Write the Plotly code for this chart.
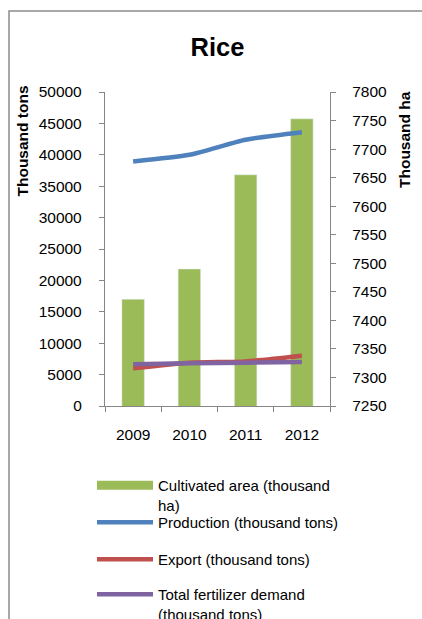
import plotly.graph_objects as go

# Rice: cultivated area (bars, right axis) and production / export / fertilizer (lines, left axis)
years = ["2009", "2010", "2011", "2012"]
cultivated_area = [7437, 7490, 7655, 7753]      # thousand ha
production = [38950, 40000, 42400, 43600]       # thousand tons
export = [6000, 6900, 7100, 8000]               # thousand tons
fertilizer = [6650, 6800, 6900, 7000]           # thousand tons

ha_ticks = list(range(7250, 7801, 50))
ton_ticks = list(range(0, 50001, 5000))

# canvas geometry
W, H = 422, 619
M_L, M_R, M_T, M_B = 105, 92, 92, 213
PW = W - M_L - M_R
PH = H - M_T - M_B


def px_x(px):
    return (px - M_L) / PW


def px_y(py):
    return (H - M_B - py) / PH


FONT = "Liberation Sans, Arial, sans-serif"
GREEN, BLUE, RED, PURPLE = "#9BBB59", "#4F81BD", "#C0504D", "#8064A2"
AXIS = "#868686"
FS = 15.5
LEG_FS = 15

fig = go.Figure()

fig.add_trace(go.Bar(
    x=years, y=cultivated_area, yaxis="y", marker_color=GREEN,
    name="Cultivated area (thousand ha)", showlegend=False,
))
# legend entry for the bars, drawn as a wide swatch
fig.add_trace(go.Scatter(
    x=[None], y=[None], yaxis="y", mode="lines",
    line=dict(color=GREEN, width=9),
    name="Cultivated area (thousand<br>ha)", legend="legend",
))

line_series = [
    ("Production (thousand tons)", production, BLUE, "legend2"),
    ("Export (thousand tons)", export, RED, "legend3"),
    ("Total fertilizer demand<br>(thousand tons)", fertilizer, PURPLE, "legend4"),
]
for name, vals, color, leg in line_series:
    fig.add_trace(go.Scatter(
        x=years, y=vals, yaxis="y2", mode="lines",
        line=dict(color=color, width=4.5, shape="spline", smoothing=0.6),
        name=name, legend=leg,
    ))

legend_common = dict(
    xanchor="left", yanchor="top", bgcolor="rgba(0,0,0,0)", borderwidth=0,
    font=dict(family=FONT, size=LEG_FS, color="#000"), itemwidth=56, valign="top",
)
legend_tops = {"legend": 469, "legend2": 506, "legend3": 543, "legend4": 578}
for key, top in legend_tops.items():
    fig.update_layout({key: dict(x=px_x(92), y=px_y(top), **legend_common)})

axis_common = dict(
    showline=True, linecolor=AXIS, linewidth=1.3, ticks="outside", ticklen=5,
    tickcolor=AXIS, tickwidth=1.3, showgrid=False, zeroline=False,
    tickfont=dict(family=FONT, size=FS, color="#000"), tickformat="d",
)

fig.update_layout(
    width=W, height=H,
    margin=dict(l=M_L, r=M_R, t=M_T, b=M_B, autoexpand=False),
    paper_bgcolor="white", plot_bgcolor="white",
    font=dict(family=FONT, color="#000"),
    title=dict(text="<b>Rice</b>", x=0.5, xref="paper", y=1 - 47 / H,
               yref="container", xanchor="center", yanchor="middle",
               font=dict(family=FONT, size=25.5, color="#000")),
    bargap=0.6,
    xaxis=dict(type="category", range=[-0.5, 3.5], tickson="boundaries",
               ticklabelstandoff=14, **axis_common),
    yaxis=dict(side="right", range=[7250, 7800], tickvals=ha_ticks,
               ticklabelstandoff=13, **axis_common),
    yaxis2=dict(side="left", overlaying="y", range=[0, 50000], tickvals=ton_ticks,
                ticklabelstandoff=14, **axis_common),
    annotations=[
        dict(text="<b>Thousand tons</b>", textangle=-90, x=px_x(22), y=px_y(141.5),
             xref="paper", yref="paper", showarrow=False,
             xanchor="center", yanchor="middle",
             font=dict(family=FONT, size=FS, color="#000")),
        dict(text="<b>Thousand ha</b>", textangle=-90, x=px_x(404), y=px_y(140),
             xref="paper", yref="paper", showarrow=False,
             xanchor="center", yanchor="middle",
             font=dict(family=FONT, size=FS, color="#000")),
    ],
    shapes=[
        dict(type="rect", xref="paper", yref="paper",
             x0=px_x(9), x1=px_x(W + 20), y0=px_y(H + 20), y1=px_y(11),
             line=dict(color="#8C8C8C", width=1.5), fillcolor="rgba(0,0,0,0)",
             layer="below"),
    ],
)

fig.write_html("out.html")
